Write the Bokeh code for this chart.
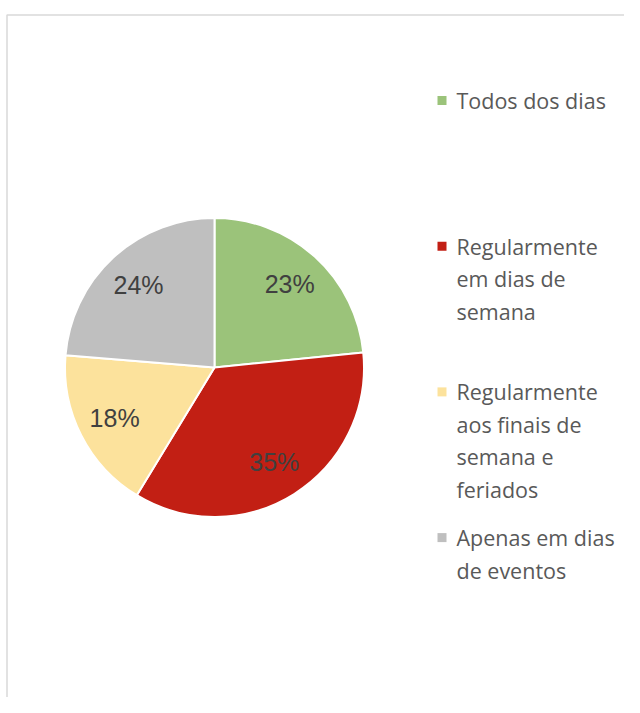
import math
from bokeh.plotting import figure
from bokeh.models import Range1d, ColumnDataSource
from bokeh.core.properties import value
from bokeh.embed import file_html
from bokeh.resources import INLINE

categories = ["Todos dos dias",
              "Regularmente\nem dias de\nsemana",
              "Regularmente\naos finais de\nsemana e\nferiados",
              "Apenas em dias\nde eventos"]
values = [23.4, 35.3, 17.6, 23.7]
colors = ["#9BC37A", "#C21F14", "#FCE29C", "#BFBFBF"]

W, H = 624, 697
p = figure(width=W, height=H, output_backend="svg", toolbar_location=None,
           x_range=Range1d(0, W), y_range=Range1d(-H, 0),
           min_border=0, outline_line_color=None)
p.axis.visible = False
p.grid.visible = False
p.background_fill_color = "white"
p.border_fill_color = "white"

# chart frame
p.line(x=[6.5, 6.5, W], y=[-H, -14.5, -14.5], line_color="#D9D9D9", line_width=1.5)

cx, cy, r = 214, -367, 149.5
total = float(sum(values))
starts, ends, mids = [], [], []
cum = 0.0
for v in values:
    a0 = 90 - cum / total * 360
    cum += v
    a1 = 90 - cum / total * 360
    starts.append(math.radians(a1))
    ends.append(math.radians(a0))
    mids.append(math.radians((a0 + a1) / 2))

src = ColumnDataSource(dict(start=starts, end=ends, color=colors))
p.wedge(x=cx, y=cy, radius=r, start_angle="start", end_angle="end",
        fill_color="color", line_color="white", line_width=2, source=src)

lr = 0.75 * r
lx = [cx + lr * math.cos(m) for m in mids]
ly = [cy + lr * math.sin(m) for m in mids]
p.text(x=lx, y=ly, text=[f"{round(v / total * 100)}%" for v in values], text_align="center",
       text_baseline="middle", text_font=value("Liberation Sans"),
       text_font_size="25px", text_color="#404040")

# legend
leg_top, step = -100, -145.7
line_h = 32.5
mx, tx = 441.5, 456
for i, (cat, col) in enumerate(zip(categories, colors)):
    y0 = leg_top + i * step
    p.rect(x=[mx], y=[y0], width=9, height=9, fill_color=col, line_color=None)
    lines = cat.split("\n")
    p.text(x=[tx] * len(lines), y=[y0 - k * line_h for k in range(len(lines))],
           text=lines, text_align="left", text_baseline="middle",
           text_font=value("Open Sans"), text_font_size="21.5px", text_color="#595959")

open("out.html", "w").write(file_html(p, INLINE))
